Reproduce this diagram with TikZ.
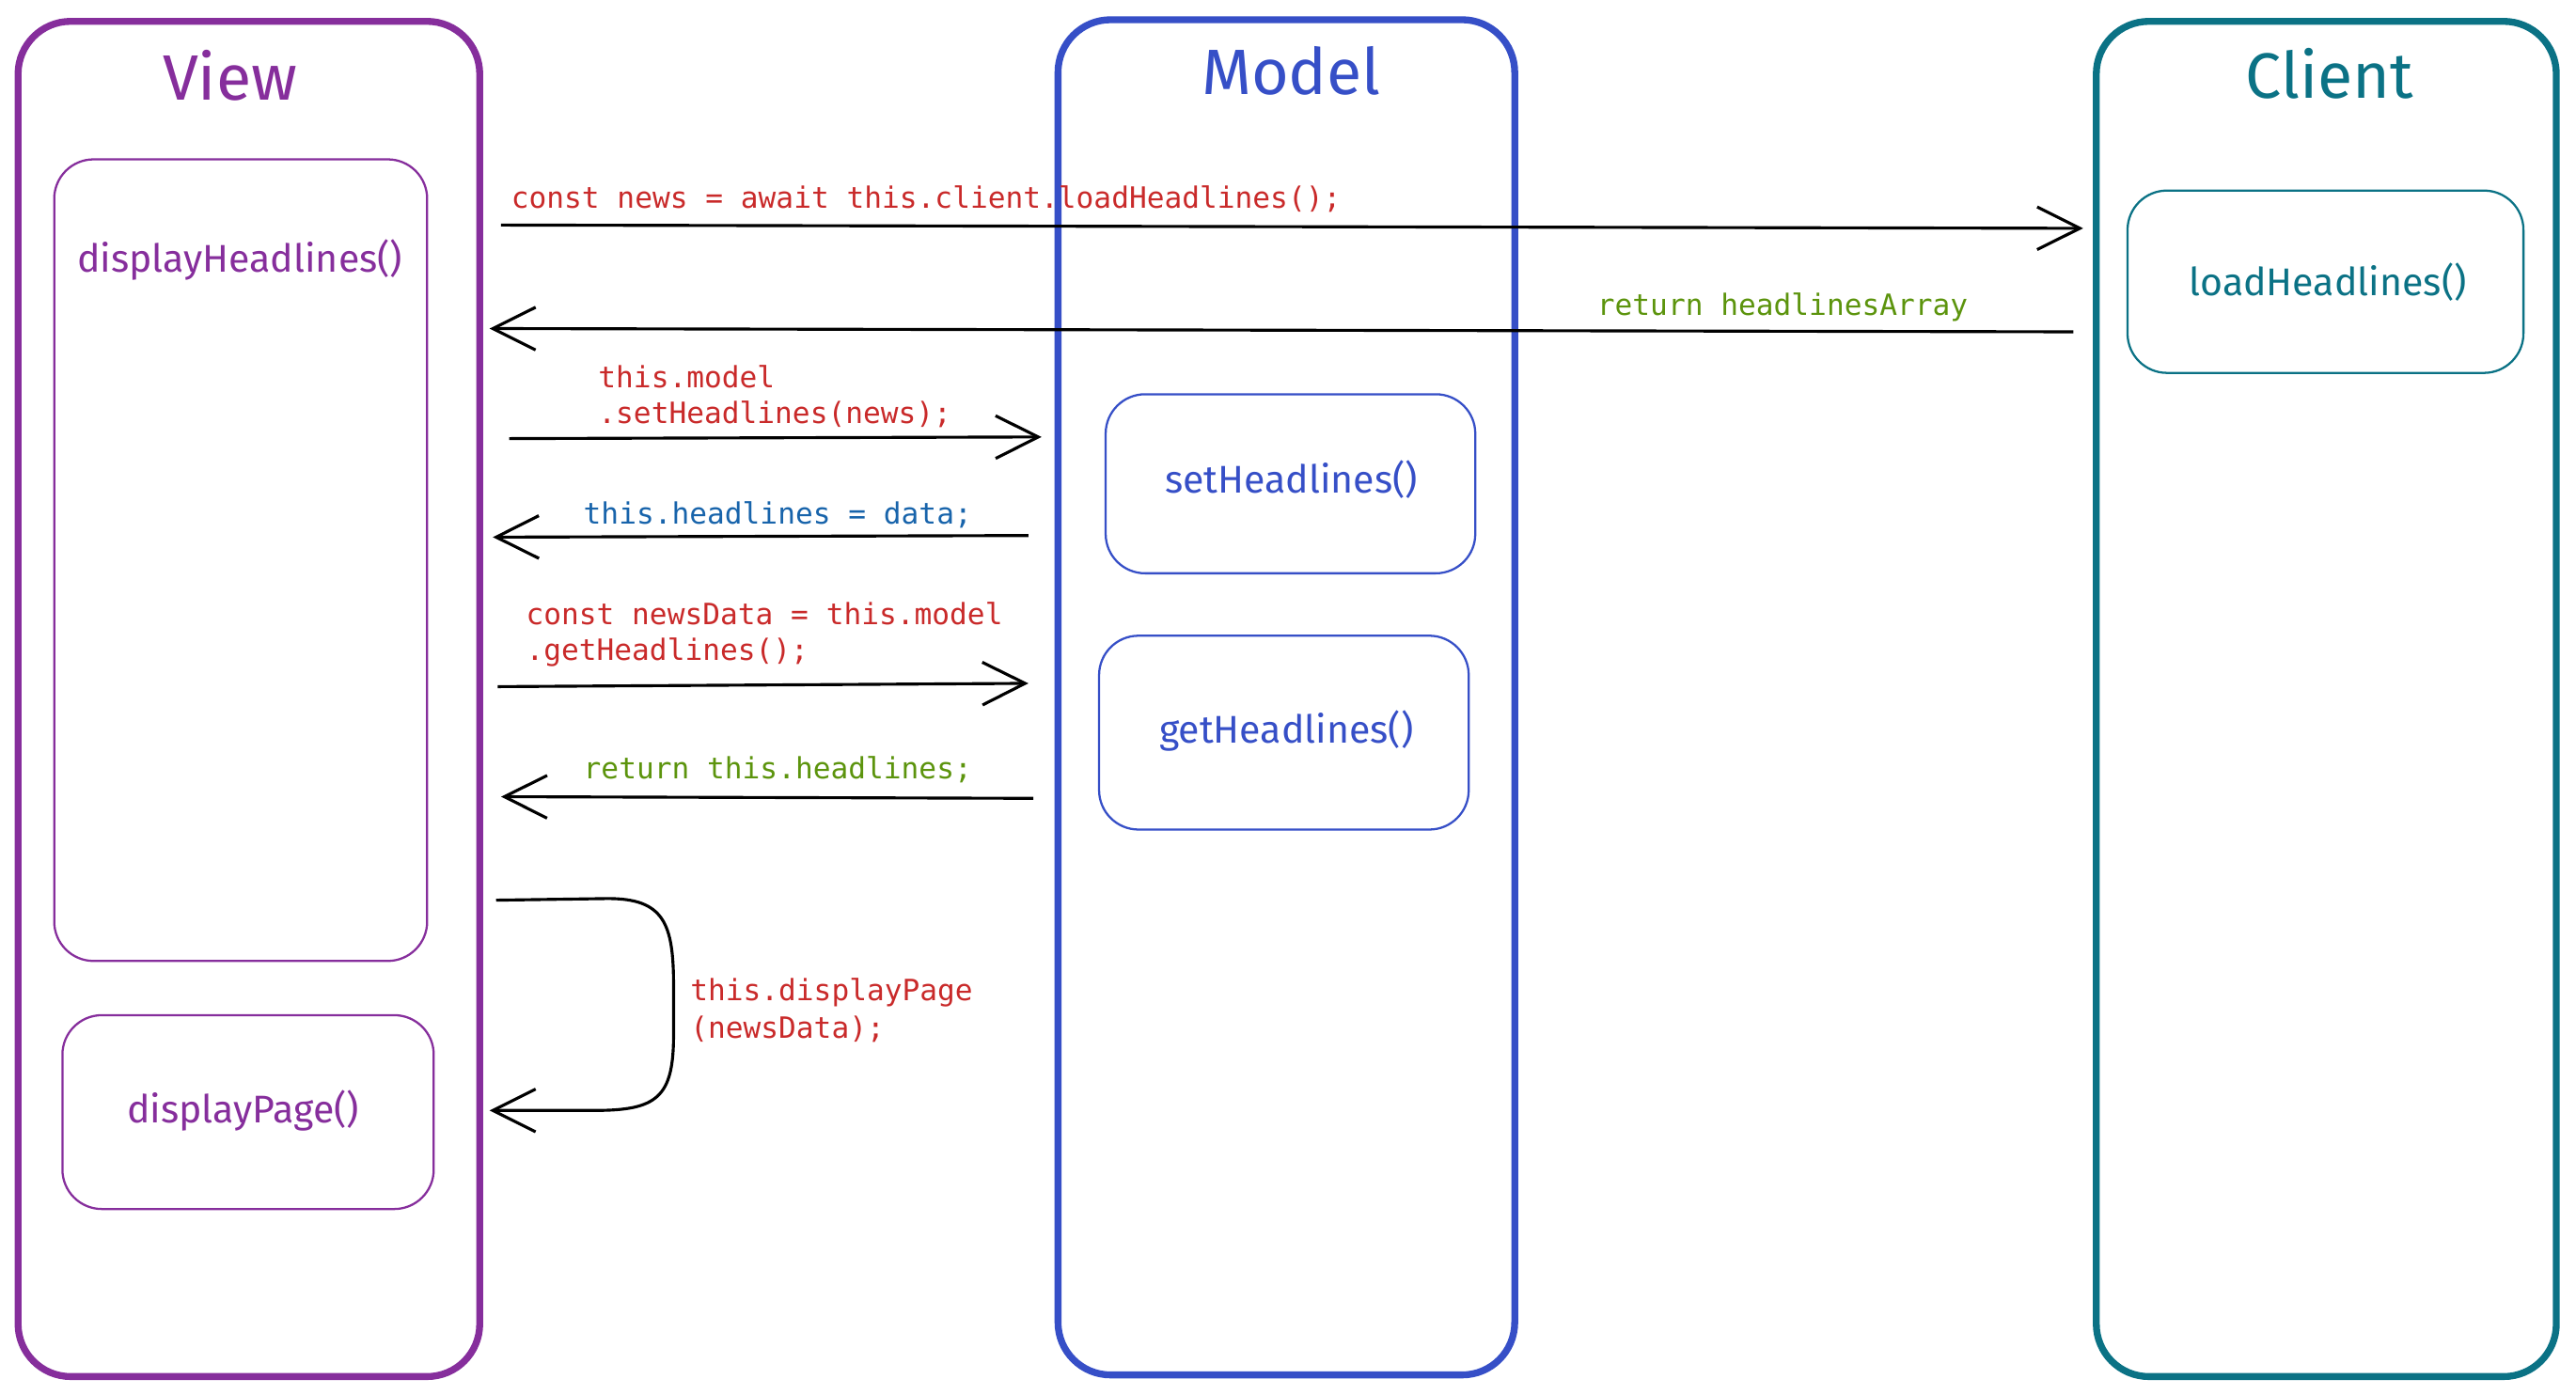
\documentclass[tikz,border=0pt]{standalone}
\usepackage{fontspec}
\usetikzlibrary{arrows.meta}
\newfontfamily\handfont{Fira Sans}
\newfontfamily\codefont{DejaVu Sans Mono}
\definecolor{viewc}{HTML}{862E9C}
\definecolor{modelc}{HTML}{364FC7}
\definecolor{clientc}{HTML}{0B7285}
\definecolor{redc}{HTML}{C92A2A}
\definecolor{greenc}{HTML}{5C940D}
\definecolor{bluec}{HTML}{1864AB}
\tikzset{
  lane/.style={draw, line width=4.2pt, rounded corners=32pt},
  inner/.style={draw, line width=1.3pt, rounded corners=24pt},
  title/.style={font=\handfont\fontsize{39}{41}\selectfont, inner sep=0pt},
  fname/.style={font=\handfont\fontsize{23.5}{26}\selectfont, inner sep=0pt},
  code/.style={font=\codefont\fontsize{17.85}{22}\selectfont, anchor=base west, inner sep=0pt},
  msg/.style={line width=1.8pt, -{Straight Barb[length=26pt,width=26pt,line width=1.8pt]}},
}
\begin{document}
\begin{tikzpicture}[x=1pt,y=-1pt]
\useasboundingbox (0,0) rectangle (1568,849);
% lanes
\draw[lane, viewc] (11,13) rectangle (292,838);
\draw[lane, modelc] (644,12) rectangle (922,837);
\draw[lane, clientc] (1276,13) rectangle (1556,838);
\node[title, text=viewc] (tview) at (140,46) {View};
\node[title, text=modelc] (tmodel) at (786,43) {Model};
\node[title, text=clientc] (tclient) at (1418,45) {Client};
% inner boxes
\draw[inner, viewc] (33,97) rectangle (260,585);
\node[fname, text=viewc] (dh) at (146,158) {displayHeadlines()};
\draw[inner, viewc] (38,618) rectangle (264,736);
\node[fname, text=viewc] (dp) at (148,676) {displayPage()};
\draw[inner, modelc] (673,240) rectangle (898,349);
\node[fname, text=modelc] (sh) at (786,292) {setHeadlines()};
\draw[inner, modelc] (669,387) rectangle (894,505);
\node[fname, text=modelc] (gh) at (783,445) {getHeadlines()};
\draw[inner, clientc] (1295,116) rectangle (1536,227);
\node[fname, text=clientc] (lh) at (1417,172) {loadHeadlines()};
% connector endpoints
\coordinate (a1s) at (305,137); \coordinate (a1e) at (1268,139);
\coordinate (a2s) at (1262,202); \coordinate (a2e) at (298,200);
\coordinate (a3s) at (310,267); \coordinate (a3e) at (634,266);
\coordinate (a4s) at (626,326); \coordinate (a4e) at (300,327);
\coordinate (a5s) at (303,418); \coordinate (a5e) at (626,416);
\coordinate (a6s) at (629,486); \coordinate (a6e) at (305,485);
\coordinate (a7s) at (302,548); \coordinate (a7e) at (298,676);
% connectors
\draw[msg] (a1s) -- (a1e);
\draw[msg] (a2s) -- (a2e);
\draw[msg] (a3s) -- (a3e);
\draw[msg] (a4s) -- (a4e);
\draw[msg] (a5s) -- (a5e);
\draw[msg] (a6s) -- (a6e);
\draw[msg] (a7s) -- (370,547) .. controls (404,547) and (410,562) .. (410,600)
  -- (410,630) .. controls (410,668) and (400,676) .. (362,676) -- (a7e);
% labels
\node[code, text=redc] (l1) at (311,127) {const news = await this.client.loadHeadlines();};
\node[code, text=greenc] (l2) at (972,192) {return headlinesArray};
\node[code, text=redc] (l3a) at (364,236) {this.model};
\node[code, text=redc] (l3b) at (364,258) {.setHeadlines(news);};
\node[code, text=bluec] (l4) at (355,319) {this.headlines = data;};
\node[code, text=redc] (l5a) at (320,380) {const newsData = this.model};
\node[code, text=redc] (l5b) at (320,402) {.getHeadlines();};
\node[code, text=greenc] (l6) at (355,474) {return this.headlines;};
\node[code, text=redc] (l7a) at (420,609) {this.displayPage};
\node[code, text=redc] (l7b) at (420,632) {(newsData);};
\end{tikzpicture}
\end{document}
